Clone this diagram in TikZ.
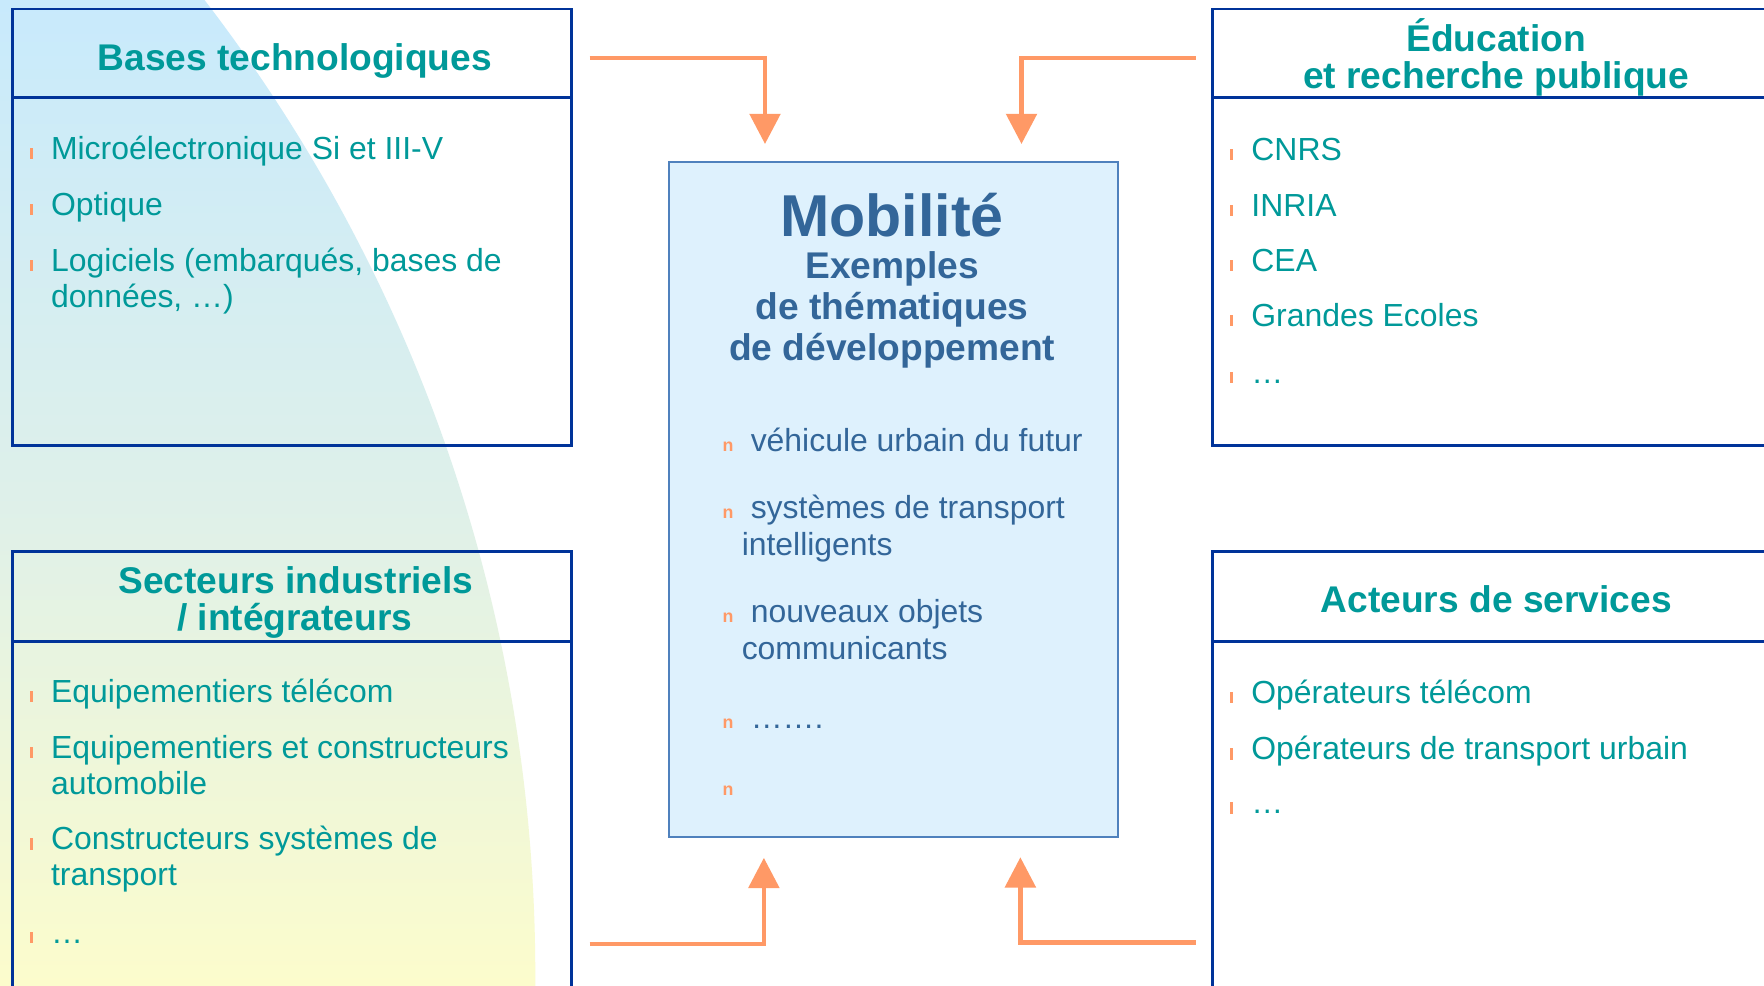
\documentclass[tikz,border=0pt]{standalone}
\usepackage{fontspec}
\setmainfont{Liberation Sans}
\usetikzlibrary{arrows.meta}
\definecolor{tealtxt}{RGB}{0,153,153}
\definecolor{boxblue}{RGB}{0,51,153}
\definecolor{midtxt}{RGB}{51,102,153}
\definecolor{orng}{RGB}{255,153,102}
\definecolor{midfill}{RGB}{222,241,253}
\definecolor{midline}{RGB}{79,129,189}
\definecolor{bgtop}{RGB}{200,234,252}
\definecolor{bgmid}{RGB}{222,240,234}
\definecolor{bgbot}{RGB}{252,252,204}
\begin{document}
\begin{tikzpicture}[x=0.02cm,y=-0.02cm,
  boxst/.style={draw=boxblue, line width=1.4pt, rectangle, inner sep=0pt, outer sep=0pt, anchor=north west},
  divline/.style={draw=boxblue, line width=1.4pt},
  hdr/.style={font=\bfseries\fontsize{18.8}{19}\selectfont, text=tealtxt, inner sep=0pt, anchor=base},
  itm/.style={font=\fontsize{16.15}{18}\selectfont, text=tealtxt, inner sep=0pt, anchor=base west},
  bar/.style={fill=orng, rectangle, minimum width=0.05cm, minimum height=0.2cm, inner sep=0pt, anchor=south},
  ctitle/.style={font=\bfseries\fontsize{18.8}{19}\selectfont, text=midtxt, inner sep=0pt, anchor=base},
  citm/.style={font=\fontsize{16.15}{18}\selectfont, text=midtxt, inner sep=0pt, anchor=base west},
  cbul/.style={font=\bfseries\fontsize{9}{9}\selectfont, text=orng, inner sep=0pt, anchor=base west},
  arr/.style={draw=orng, line width=2.4pt, -{Triangle[width=15.3pt,length=15.3pt]}}
]
\clip (0,0) rectangle (1568,876);
\fill[white] (0,0) rectangle (1568,876);
\begin{scope}
\clip (-947.6,866.5) circle[radius=28.474cm];
\shade[top color=bgtop, bottom color=bgbot, middle color=bgmid] (0,0) rectangle (1568,876);
\end{scope}

% boxes
\node[boxst, minimum width=497*0.02cm, minimum height=388*0.02cm] (tl) at (11,8) {};
\draw[divline] (tl.west |- 0,87) -- (tl.east |- 0,87);
\node[boxst, minimum width=497*0.02cm, minimum height=420*0.02cm] (bl) at (11,490) {};
\draw[divline] (bl.west |- 0,570) -- (bl.east |- 0,570);
\node[boxst, minimum width=530*0.02cm, minimum height=388*0.02cm] (tr) at (1078,8) {};
\draw[divline] (tr.west |- 0,87) -- (tr.east |- 0,87);
\node[boxst, minimum width=530*0.02cm, minimum height=420*0.02cm] (br) at (1078,490) {};
\draw[divline] (br.west |- 0,570) -- (br.east |- 0,570);
\node[draw=midline, line width=1.1pt, fill=midfill, anchor=north west, minimum width=399*0.02cm, minimum height=600*0.02cm, inner sep=0pt] (mob) at (594,143) {};

% top-left
\node[hdr] (tlh) at (262,63) {Bases technologiques};
\node[bar] (tlb1) at (28,141.5) {}; \node[itm] (tl1) at (45,141.5) {Microélectronique Si et III-V};
\node[bar] (tlb2) at (28,191.5) {}; \node[itm] (tl2) at (45,191.5) {Optique};
\node[bar] (tlb3) at (28,241.5) {}; \node[itm] (tl3) at (45,241.5) {Logiciels (embarqués, bases de};
\node[itm] (tl3b) at (45,273.5) {données, …)};

% bottom-left
\node[hdr] (blh1) at (263,527.5) {Secteurs industriels};
\node[hdr] (blh2) at (262,560.5) {/ intégrateurs};
\node[bar] (blb1) at (28,624.5) {}; \node[itm] (bl1) at (45,624.5) {Equipementiers télécom};
\node[bar] (blb2) at (28,674.5) {}; \node[itm] (bl2) at (45,674.5) {Equipementiers et constructeurs};
\node[itm] (bl2b) at (45,706.5) {automobile};
\node[bar] (blb3) at (28,755.5) {}; \node[itm] (bl3) at (45,755.5) {Constructeurs systèmes de};
\node[itm] (bl3b) at (45,787.5) {transport};
\node[bar] (blb4) at (28,838.5) {}; \node[itm] (bl4) at (45,838.5) {…};

% top-right
\node[hdr] (trh1) at (1330,46) {Éducation};
\node[hdr] (trh2) at (1330,79) {et recherche publique};
\node[bar] (trb1) at (1095,142.5) {}; \node[itm] (tr1) at (1112,142.5) {CNRS};
\node[bar] (trb2) at (1095,192.5) {}; \node[itm] (tr2) at (1112,192.5) {INRIA};
\node[bar] (trb3) at (1095,241.5) {}; \node[itm] (tr3) at (1112,241.5) {CEA};
\node[bar] (trb4) at (1095,290.5) {}; \node[itm] (tr4) at (1112,290.5) {Grandes Ecoles};
\node[bar] (trb5) at (1095,341) {}; \node[itm] (tr5) at (1112,341) {…};

% bottom-right
\node[hdr] (brh) at (1330,544.5) {Acteurs de services};
\node[bar] (brb1) at (1095,625.5) {}; \node[itm] (br1) at (1112,625.5) {Opérateurs télécom};
\node[bar] (brb2) at (1095,675.5) {}; \node[itm] (br2) at (1112,675.5) {Opérateurs de transport urbain};
\node[bar] (brb3) at (1095,723.5) {}; \node[itm] (br3) at (1112,723.5) {…};

% centre
\node[font=\bfseries\fontsize{29.9}{30}\selectfont, text=midtxt, inner sep=0pt, anchor=base] (mt) at (793,210) {Mobilité};
\node[ctitle] (mt1) at (793,247.4) {Exemples};
\node[ctitle] (mt2) at (793,284.4) {de thématiques};
\node[ctitle] (mt3) at (793,320.5) {de développement};
\node[cbul] (cb1) at (642,401) {n}; \node[citm] (c1) at (667,401) {véhicule urbain du futur};
\node[cbul] (cb2) at (642,460.5) {n}; \node[citm] (c2) at (667,460.5) {systèmes de transport};
\node[citm] (c2b) at (659,493.8) {intelligents};
\node[cbul] (cb3) at (642,553.7) {n}; \node[citm] (c3) at (667,553.7) {nouveaux objets};
\node[citm] (c3b) at (659,586.5) {communicants};
\node[cbul] (cb4) at (642,647.8) {n}; \node[citm] (c4) at (667,647.8) {…….};
\node[cbul] (cb5) at (642,707.2) {n};

% arrows
\coordinate (a1s) at (524,51.5); \coordinate (a1e) at (680,128);
\coordinate (a2s) at (1063,51.5); \coordinate (a2e) at (908,128);
\coordinate (a3s) at (524,839); \coordinate (a3e) at (679,762.5);
\coordinate (a4s) at (1063,838); \coordinate (a4e) at (907,762);
\draw[arr] (a1s) -| (a1e);
\draw[arr] (a2s) -| (a2e);
\draw[arr] (a3s) -| (a3e);
\draw[arr] (a4s) -| (a4e);
\end{tikzpicture}
\end{document}
